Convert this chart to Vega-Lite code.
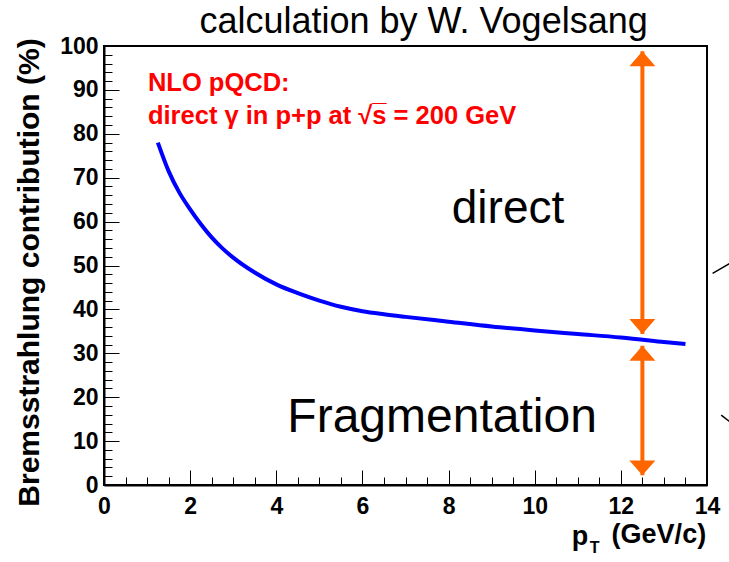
{
  "$schema": "https://vega.github.io/schema/vega-lite/v6.json",
  "width": 603,
  "height": 439,
  "autosize": {"type": "none"},
  "padding": {"left": 104, "top": 46, "right": 22, "bottom": 77},
  "background": "white",
  "config": {"view": {"stroke": "black", "strokeWidth": 2}, "font": "Liberation Sans"},
  "datasets": {
    "curve": [
      {"pt": 1.25, "frac": 78.0},
      {"pt": 1.5, "frac": 71.5},
      {"pt": 1.75, "frac": 66.6},
      {"pt": 2.0, "frac": 62.8},
      {"pt": 2.25, "frac": 59.4},
      {"pt": 2.5, "frac": 56.4},
      {"pt": 2.75, "frac": 53.9},
      {"pt": 3.0, "frac": 51.8},
      {"pt": 3.5, "frac": 48.4},
      {"pt": 4.0, "frac": 45.7},
      {"pt": 4.5, "frac": 43.7},
      {"pt": 5.0, "frac": 42.0},
      {"pt": 5.5, "frac": 40.6},
      {"pt": 6.0, "frac": 39.6},
      {"pt": 6.5, "frac": 38.9},
      {"pt": 7.0, "frac": 38.3},
      {"pt": 8.0, "frac": 37.2},
      {"pt": 9.0, "frac": 36.1},
      {"pt": 10.0, "frac": 35.2},
      {"pt": 11.0, "frac": 34.4},
      {"pt": 12.0, "frac": 33.6},
      {"pt": 13.0, "frac": 32.6},
      {"pt": 13.5, "frac": 32.1}
    ],
    "arrows": [
      {"part": "direct", "pt": 12.5, "lo": 34.4, "hi": 98.8},
      {"part": "fragmentation", "pt": 12.5, "lo": 2.2, "hi": 31.7}
    ],
    "heads": [
      {"pt": 12.5, "frac": 98.8, "dir": "up"},
      {"pt": 12.5, "frac": 34.4, "dir": "down"},
      {"pt": 12.5, "frac": 31.7, "dir": "up"},
      {"pt": 12.5, "frac": 2.2, "dir": "down"}
    ],
    "marks": [
      {"x1": 14.13, "y1": 48.2, "x2": 14.53, "y2": 50.5},
      {"x1": 14.33, "y1": 15.9, "x2": 14.53, "y2": 14.4}
    ]
  },
  "layer": [
    {
      "data": {"name": "curve"},
      "mark": {"type": "line", "color": "#0000ff", "strokeWidth": 4, "interpolate": "monotone", "clip": false},
      "encoding": {
        "x": {
          "field": "pt", "type": "quantitative",
          "scale": {"domain": [0, 14], "nice": false, "zero": false},
          "axis": {
            "orient": "bottom", "values": [0, 2, 4, 6, 8, 10, 12, 14], "format": "d",
            "labelFont": "Liberation Sans", "labelFontWeight": "bold", "labelFontSize": 23, "labelColor": "black",
            "labelFlush": false, "labelOverlap": false, "labelPadding": 25,
            "tickSize": -15, "tickColor": "black", "tickWidth": 1,
            "domainColor": "black", "domainWidth": 2, "grid": false, "title": null
          }
        },
        "y": {
          "field": "frac", "type": "quantitative",
          "scale": {"domain": [0, 100], "nice": false},
          "axis": {
            "orient": "left", "values": [0, 10, 20, 30, 40, 50, 60, 70, 80, 90, 100],
            "labelFont": "Liberation Sans", "labelFontWeight": "bold", "labelFontSize": 23, "labelColor": "black",
            "labelFlush": false, "labelOverlap": false, "labelPadding": 21,
            "tickSize": -15, "tickColor": "black", "tickWidth": 1,
            "domainColor": "black", "domainWidth": 2, "grid": false,
            "title": "Bremsstrahlung contribution  (%)",
            "titleFont": "Liberation Sans", "titleFontWeight": "bold", "titleFontSize": 30, "titleColor": "black",
            "titleX": -60, "titleY": 226, "titleAngle": -90, "titleAlign": "center", "titleBaseline": "bottom"
          }
        }
      }
    },
    {
      "data": {"name": "arrows"},
      "mark": {"type": "rule", "color": "#ff6600", "strokeWidth": 4},
      "encoding": {
        "x": {
          "field": "pt", "type": "quantitative",
          "axis": {
            "orient": "bottom",
            "values": [0.5, 1, 1.5, 2.5, 3, 3.5, 4.5, 5, 5.5, 6.5, 7, 7.5, 8.5, 9, 9.5, 10.5, 11, 11.5, 12.5, 13, 13.5],
            "labels": false, "domain": false, "tickSize": -8, "tickColor": "black", "tickWidth": 1, "grid": false, "title": null
          }
        },
        "y": {
          "field": "lo", "type": "quantitative",
          "axis": {
            "orient": "left",
            "values": [2, 4, 6, 8, 12, 14, 16, 18, 22, 24, 26, 28, 32, 34, 36, 38, 42, 44, 46, 48, 52, 54, 56, 58, 62, 64, 66, 68, 72, 74, 76, 78, 82, 84, 86, 88, 92, 94, 96, 98],
            "labels": false, "domain": false, "tickSize": -8, "tickColor": "black", "tickWidth": 1, "grid": false, "title": null
          }
        },
        "y2": {"field": "hi"}
      }
    },
    {
      "data": {"name": "heads"},
      "mark": {"type": "point", "filled": true, "color": "#ff6600", "size": 676, "opacity": 1, "strokeWidth": 0},
      "encoding": {
        "x": {"field": "pt", "type": "quantitative", "axis": null},
        "y": {"field": "frac", "type": "quantitative", "axis": null},
        "shape": {
          "field": "dir", "type": "nominal",
          "scale": {"domain": ["up", "down"], "range": ["M0,0L1,1.15L-1,1.15Z", "M0,0L1,-1.15L-1,-1.15Z"]},
          "legend": null
        }
      }
    },
    {
      "data": {"name": "marks"},
      "mark": {"type": "rule", "color": "black", "strokeWidth": 1.5},
      "encoding": {
        "x": {"field": "x1", "type": "quantitative", "axis": null},
        "y": {"field": "y1", "type": "quantitative", "axis": null},
        "x2": {"field": "x2"},
        "y2": {"field": "y2"}
      }
    },
    {
      "data": {"values": [{"label": "calculation by W. Vogelsang"}]},
      "mark": {"type": "text", "font": "Liberation Sans", "fontSize": 36, "color": "black", "align": "center", "baseline": "alphabetic"},
      "encoding": {
        "x": {"datum": 7.42, "type": "quantitative", "axis": null},
        "y": {"datum": 103.0, "type": "quantitative", "axis": null},
        "text": {"field": "label"}
      }
    },
    {
      "data": {"values": [{"label": "NLO pQCD:"}]},
      "mark": {"type": "text", "font": "Liberation Sans", "fontWeight": "bold", "fontSize": 25.5, "color": "#ff0000", "align": "left", "baseline": "alphabetic"},
      "encoding": {
        "x": {"datum": 1.02, "type": "quantitative", "axis": null},
        "y": {"datum": 89.7, "type": "quantitative", "axis": null},
        "text": {"field": "label"}
      }
    },
    {
      "data": {"values": [{"label": "direct γ in p+p at √s̅ = 200 GeV"}]},
      "mark": {"type": "text", "font": "Liberation Sans", "fontWeight": "bold", "fontSize": 25.5, "color": "#ff0000", "align": "left", "baseline": "alphabetic"},
      "encoding": {
        "x": {"datum": 1.02, "type": "quantitative", "axis": null},
        "y": {"datum": 82.2, "type": "quantitative", "axis": null},
        "text": {"field": "label"}
      }
    },
    {
      "data": {"values": [{"label": "direct"}]},
      "mark": {"type": "text", "font": "Liberation Sans", "fontSize": 46, "color": "black", "align": "center", "baseline": "alphabetic"},
      "encoding": {
        "x": {"datum": 9.38, "type": "quantitative", "axis": null},
        "y": {"datum": 59.7, "type": "quantitative", "axis": null},
        "text": {"field": "label"}
      }
    },
    {
      "data": {"values": [{"label": "Fragmentation"}]},
      "mark": {"type": "text", "font": "Liberation Sans", "fontSize": 48, "color": "black", "align": "center", "baseline": "alphabetic"},
      "encoding": {
        "x": {"datum": 7.85, "type": "quantitative", "axis": null},
        "y": {"datum": 12.1, "type": "quantitative", "axis": null},
        "text": {"field": "label"}
      }
    },
    {
      "data": {"values": [{"label": "p"}]},
      "mark": {"type": "text", "font": "Liberation Sans", "fontWeight": "bold", "fontSize": 27, "color": "black", "align": "left", "baseline": "alphabetic"},
      "encoding": {
        "x": {"datum": 10.86, "type": "quantitative", "axis": null},
        "y": {"datum": -13.7, "type": "quantitative", "axis": null},
        "text": {"field": "label"}
      }
    },
    {
      "data": {"values": [{"label": "T"}]},
      "mark": {"type": "text", "font": "Liberation Sans", "fontWeight": "bold", "fontSize": 16, "color": "black", "align": "left", "baseline": "alphabetic"},
      "encoding": {
        "x": {"datum": 11.28, "type": "quantitative", "axis": null},
        "y": {"datum": -15.6, "type": "quantitative", "axis": null},
        "text": {"field": "label"}
      }
    },
    {
      "data": {"values": [{"label": "(GeV/c)"}]},
      "mark": {"type": "text", "font": "Liberation Sans", "fontWeight": "bold", "fontSize": 27, "color": "black", "align": "right", "baseline": "alphabetic"},
      "encoding": {
        "x": {"datum": 13.98, "type": "quantitative", "axis": null},
        "y": {"datum": -13.2, "type": "quantitative", "axis": null},
        "text": {"field": "label"}
      }
    }
  ],
  "resolve": {"axis": {"x": "independent", "y": "independent"}}
}
